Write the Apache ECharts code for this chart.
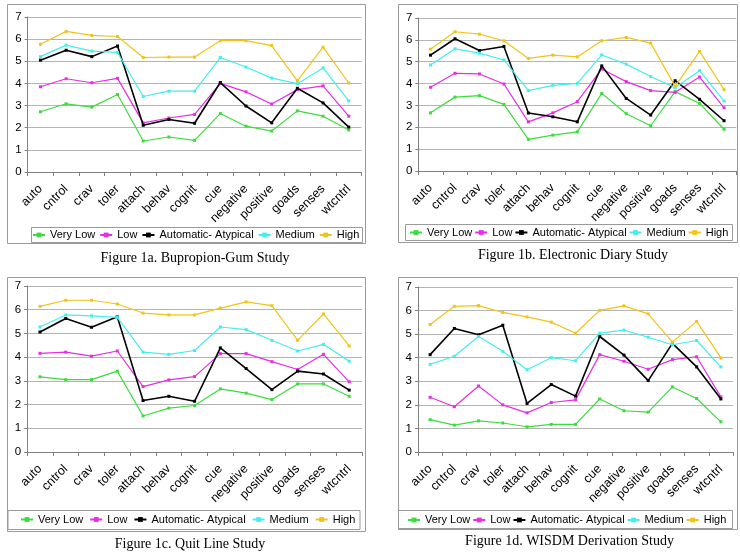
<!DOCTYPE html>
<html>
<head>
<meta charset="utf-8">
<script src="https://cdn.jsdelivr.net/npm/echarts@6/dist/echarts.min.js"></script>
<style>
html,body{margin:0;padding:0;background:#fff;}
#c{width:740px;height:552px;}
</style>
</head>
<body>
<div id="c"></div>
<script>
// ---- data ----
const categories = ['auto','cntrol','crav','toler','attach','behav','cognit','cue','negative','positive','goads','senses','wtcntrl'];
const seriesNames = ['Very Low','Low','Automatic- Atypical','Medium','High'];
const yTicks = [0,1,2,3,4,5,6,7];
const captions = ['Figure 1a. Bupropion-Gum Study','Figure 1b. Electronic Diary Study','Figure 1c. Quit Line Study','Figure 1d. WISDM Derivation Study'];

// Figure 1a
const aVeryLow = [2.72, 3.08, 2.93, 3.50, 1.40, 1.58, 1.43, 2.64, 2.07, 1.85, 2.76, 2.52, 1.90];
const aLow     = [3.85, 4.21, 4.03, 4.23, 2.22, 2.44, 2.60, 4.00, 3.62, 3.07, 3.72, 3.89, 2.52];
const aAuto    = [5.05, 5.50, 5.21, 5.69, 2.11, 2.37, 2.20, 4.04, 2.98, 2.22, 3.78, 3.12, 2.03];
const aMedium  = [5.21, 5.73, 5.46, 5.40, 3.41, 3.65, 3.65, 5.17, 4.74, 4.24, 3.99, 4.70, 3.21];
const aHigh    = [5.77, 6.35, 6.17, 6.12, 5.17, 5.19, 5.19, 5.93, 5.93, 5.71, 4.12, 5.64, 4.02];
// Figure 1b
const bVeryLow = [2.66, 3.38, 3.45, 3.05, 1.45, 1.64, 1.79, 3.55, 2.62, 2.07, 3.63, 3.09, 1.91];
const bLow     = [3.83, 4.47, 4.44, 3.98, 2.25, 2.66, 3.17, 4.67, 4.09, 3.68, 3.60, 4.30, 2.89];
const bAuto    = [5.30, 6.05, 5.51, 5.70, 2.65, 2.48, 2.25, 4.81, 3.32, 2.56, 4.13, 3.28, 2.30];
const bMedium  = [4.85, 5.59, 5.39, 5.08, 3.68, 3.92, 4.01, 5.31, 4.89, 4.32, 3.82, 4.59, 3.20];
const bHigh    = [5.57, 6.37, 6.26, 5.96, 5.15, 5.30, 5.22, 5.96, 6.11, 5.85, 3.87, 5.47, 3.72];
// Figure 1c
const cVeryLow = [3.17, 3.05, 3.05, 3.41, 1.52, 1.85, 1.96, 2.66, 2.48, 2.21, 2.87, 2.87, 2.35];
const cLow     = [4.16, 4.21, 4.04, 4.26, 2.76, 3.04, 3.18, 4.15, 4.15, 3.81, 3.48, 4.12, 2.96];
const cAuto    = [5.06, 5.63, 5.26, 5.70, 2.17, 2.35, 2.14, 4.39, 3.52, 2.63, 3.41, 3.29, 2.61];
const cMedium  = [5.27, 5.78, 5.74, 5.68, 4.21, 4.12, 4.28, 5.27, 5.16, 4.71, 4.26, 4.54, 3.83];
const cHigh    = [6.14, 6.40, 6.40, 6.24, 5.86, 5.78, 5.78, 6.07, 6.33, 6.17, 4.71, 5.82, 4.47];
// Figure 1d
const dVeryLow = [1.37, 1.14, 1.32, 1.23, 1.07, 1.17, 1.17, 2.25, 1.75, 1.69, 2.76, 2.27, 1.28];
const dLow     = [2.32, 1.92, 2.80, 2.00, 1.66, 2.10, 2.21, 4.13, 3.85, 3.51, 3.92, 4.04, 2.34];
const dAuto    = [4.13, 5.24, 4.97, 5.38, 2.06, 2.86, 2.37, 4.90, 4.11, 3.03, 4.61, 3.61, 2.25];
const dMedium  = [3.72, 4.06, 4.90, 4.27, 3.49, 4.00, 3.87, 5.04, 5.17, 4.87, 4.55, 4.73, 3.61];
const dHigh    = [5.41, 6.18, 6.21, 5.92, 5.73, 5.51, 5.04, 6.01, 6.20, 5.86, 4.66, 5.54, 3.99];

const panelData = [
  [aVeryLow, aLow, aAuto, aMedium, aHigh],
  [bVeryLow, bLow, bAuto, bMedium, bHigh],
  [cVeryLow, cLow, cAuto, cMedium, cHigh],
  [dVeryLow, dLow, dAuto, dMedium, dHigh]
];

// ---- layout / style ----
const colors = ['#3ddc3d', '#e62ee6', '#000000', '#44eeee', '#f0c419'];
const widths = [1.2, 1.2, 1.6, 1.2, 1.2];
const grids = [
  {left: 27.6, top: 17, width: 334, height: 155},
  {left: 418.3, top: 18, width: 318, height: 153},
  {left: 27.1, top: 286, width: 335, height: 166},
  {left: 418, top: 287, width: 315, height: 165}
];
const outerBoxes = [
  {x: 7, y: 4, w: 358, h: 239},
  {x: 398, y: 4, w: 339, h: 238},
  {x: 7, y: 277, w: 358, h: 254},
  {x: 398, y: 277, w: 339, h: 252}
];
const legendBoxes = [
  {x: 31, y: 227, w: 331, h: 15},
  {x: 405, y: 224, w: 327, h: 16},
  {x: 7.5, y: 510, w: 352, h: 19},
  {x: 398, y: 510, w: 334, h: 18}
];
const legendPos = [
  {left: 32, top: 229.5, gap: 4},
  {left: 409, top: 227, gap: 2},
  {left: 20, top: 514, gap: 6},
  {left: 407, top: 514.5, gap: 2}
];
const captionPos = [
  {x: 195, y: 258}, {x: 573, y: 255.5}, {x: 190, y: 544}, {x: 569.5, y: 541}
];

const SANS = "'Liberation Sans', Arial, sans-serif";
const SERIF = "'Liberation Serif', 'Times New Roman', serif";

const chart = echarts.init(document.getElementById('c'), null, {renderer: 'canvas'});

const graphic = [];
outerBoxes.forEach(b => graphic.push({
  type: 'rect', shape: {x: b.x + 0.5, y: b.y + 0.5, width: b.w, height: b.h},
  style: {fill: 'none', stroke: '#9a9a9a', lineWidth: 1}, silent: true, z: 0
}));
legendBoxes.forEach(b => graphic.push({
  type: 'rect', shape: {x: b.x + 0.5, y: b.y + 0.5, width: b.w, height: b.h},
  style: {fill: 'none', stroke: '#9a9a9a', lineWidth: 1}, silent: true, z: 0
}));
captions.forEach((t, i) => graphic.push({
  type: 'text', x: captionPos[i].x, y: captionPos[i].y,
  style: {text: t, fill: '#000', font: '14px ' + SERIF, textAlign: 'center', textVerticalAlign: 'middle'},
  silent: true
}));

const xAxis = [], yAxis = [], series = [], legend = [];
grids.forEach((g, i) => {
  xAxis.push({
    type: 'category', gridIndex: i, data: categories, boundaryGap: true,
    axisLine: {show: true, lineStyle: {color: '#808080', width: 1}},
    axisTick: {show: true, interval: 0, length: 4, lineStyle: {color: '#808080'}},
    axisLabel: {interval: 0, rotate: 45, margin: 15, color: '#000', fontSize: 12.5, fontFamily: SANS},
    splitLine: {show: false}
  });
  yAxis.push({
    type: 'value', gridIndex: i, min: yTicks[0], max: yTicks[yTicks.length - 1], interval: 1,
    axisLine: {show: true, lineStyle: {color: '#808080', width: 1}},
    axisTick: {show: true, length: 3, lineStyle: {color: '#808080'}},
    axisLabel: {margin: 6, color: '#000', fontSize: 11.5, fontFamily: SANS},
    splitLine: {show: true, lineStyle: {color: '#b4b4b4', width: 1}}
  });
  panelData[i].forEach((vals, s) => {
    series.push({
      type: 'line', name: seriesNames[s], xAxisIndex: i, yAxisIndex: i, data: vals,
      symbol: 'rect', symbolSize: 3, showSymbol: true,
      lineStyle: {color: colors[s], width: widths[s]},
      itemStyle: {color: colors[s]},
      emphasis: {disabled: true}, z: 2 + s
    });
  });
  legend.push({
    data: seriesNames, left: legendPos[i].left, top: legendPos[i].top,
    orient: 'horizontal', padding: 0, itemGap: legendPos[i].gap, itemWidth: 12, itemHeight: 6,
    itemTextGap: 3.5, selectedMode: false,
    textStyle: {fontSize: 11, fontFamily: SANS, color: '#000'}
  });
});

chart.setOption({
  animation: false,
  backgroundColor: '#fff',
  grid: grids.map(g => Object.assign({containLabel: false}, g)),
  xAxis, yAxis, series, legend, graphic
});
</script>
</body>
</html>
